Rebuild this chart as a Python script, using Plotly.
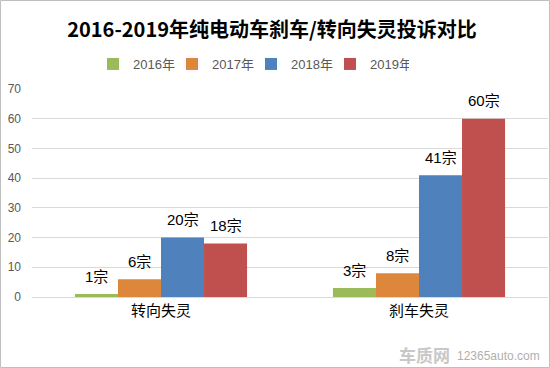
import plotly.graph_objects as go

categories = ["转向失灵", "刹车失灵"]
years = ["2016年", "2017年", "2018年", "2019年"]
values = {
    "2016年": [1, 3],
    "2017年": [6, 8],
    "2018年": [20, 41],
    "2019年": [18, 60],
}
colors = ["#9BBB59", "#DD873D", "#4F81BD", "#C0504D"]
y_ticks = [0, 10, 20, 30, 40, 50, 60, 70]

W, H = 550, 368
ml, mr, mt, mb = 32, 2, 89, 71
pw, ph = W - ml - mr, H - mt - mb
FONT = "Arial, Noto Sans CJK SC"
BARGAP = 0.333

# bar width in px (style constant derived from layout)
cat_px = pw / len(categories)
bar_px = cat_px * (1 - BARGAP) / len(years)

fig = go.Figure()
annotations = []
for i, (yr, c) in enumerate(zip(years, colors)):
    vals = values[yr]
    fig.add_trace(go.Bar(
        x=categories, y=vals, name=yr, marker=dict(color=c, line=dict(width=0)),
    ))
    xs = (i - (len(years) - 1) / 2) * bar_px
    for cat, v in zip(categories, vals):
        annotations.append(dict(
            x=cat, y=v, xref="x", yref="y", text=f"{v}宗", showarrow=False,
            xshift=xs, yshift=18, yanchor="middle", xanchor="center",
            font=dict(size=15, color="#000000", family=FONT),
        ))

def px(x):
    return (x - ml) / pw

def py(y):
    return (H - mb - y) / ph

annotations += [
    dict(text="<b>车质网</b>", xref="paper", yref="paper", x=px(452), y=py(354),
         xanchor="right", yanchor="middle", showarrow=False,
         font=dict(size=17, color="#C8C8C8", family="Noto Sans CJK SC")),
    dict(text="12365auto.com", xref="paper", yref="paper", x=px(455), y=py(356),
         xanchor="left", yanchor="middle", showarrow=False,
         font=dict(size=12, color="#AFAFAF", family="Arial")),
]

fig.update_layout(
    width=W, height=H,
    margin=dict(l=ml, r=mr, t=mt, b=mb),
    paper_bgcolor="white", plot_bgcolor="white",
    barmode="group", bargap=BARGAP, bargroupgap=0,
    font=dict(family=FONT, color="#595959"),
    title=dict(text="<b>2016-2019年纯电动车刹车/转向失灵投诉对比</b>",
               x=272 / W, xanchor="center", y=1 - 30 / H, yanchor="middle",
               font=dict(size=20, color="#000000", family="Noto Sans CJK SC")),
    legend=dict(orientation="h", x=px(93), xref="paper", xanchor="left",
                y=py(64), yanchor="middle", font=dict(size=13, color="#595959", family=FONT),
                itemwidth=30, entrywidth=34, traceorder="normal"),
    xaxis=dict(showgrid=False, showline=True, linecolor="#D9D9D9", linewidth=1,
               ticks="", tickfont=dict(size=15, color="#000000", family=FONT)),
    yaxis=dict(range=[0, 70], tickvals=y_ticks, showgrid=True, gridcolor="#D9D9D9",
               gridwidth=1, zeroline=False, showline=False, ticks="",
               tickfont=dict(size=12, color="#595959", family=FONT), ticklabelstandoff=10),
    shapes=[dict(type="rect", xref="paper", yref="paper",
                 x0=px(0.5), x1=px(W - 0.5), y0=py(H - 0.5), y1=py(0.5),
                 line=dict(color="#BFBFBF", width=1), fillcolor="rgba(0,0,0,0)")],
    annotations=annotations,
)

fig.write_html("out.html", config={"displayModeBar": False},
               post_script="document.body.style.margin='0';document.body.style.overflow='hidden';")
